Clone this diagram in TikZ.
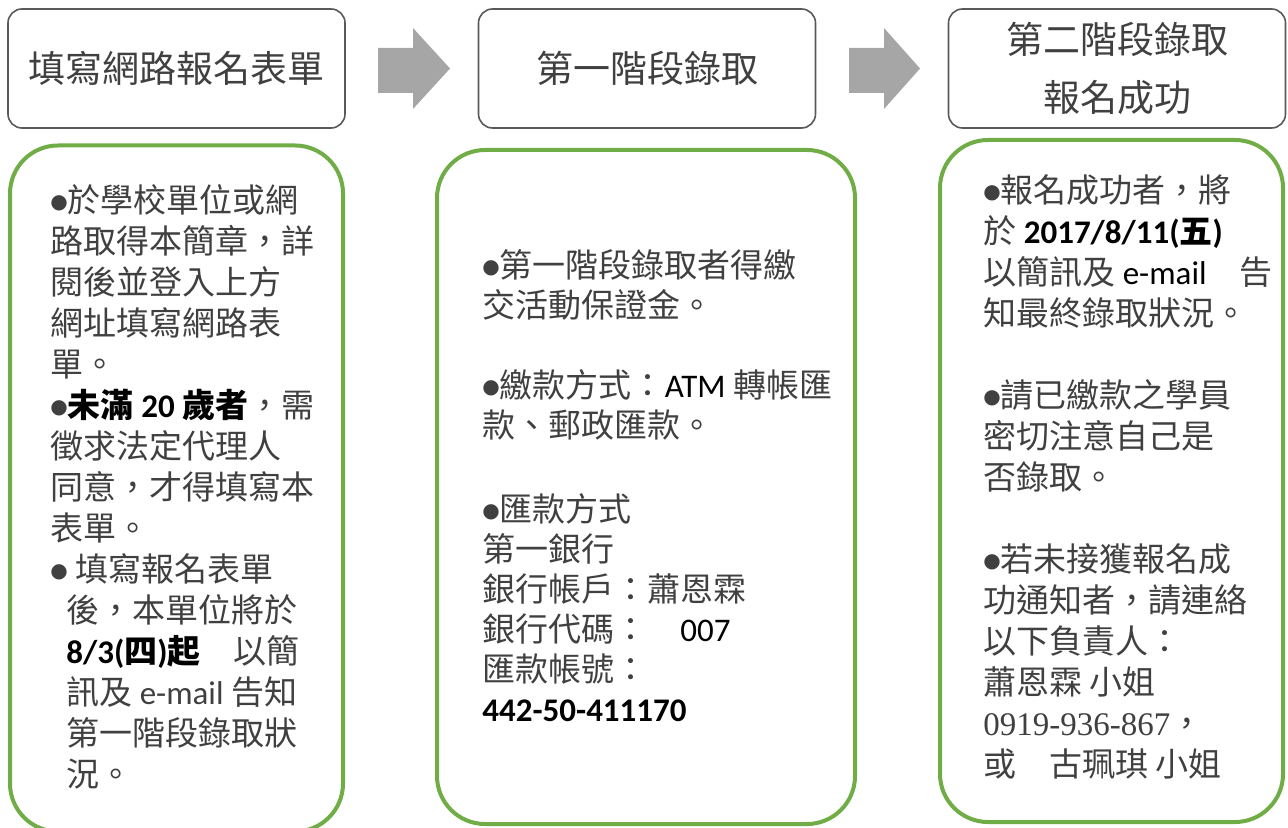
\documentclass[tikz,border=0pt]{standalone}
\usepackage{fontspec}
\setmainfont{Noto Sans CJK TC}
\newfontfamily\latfont{Carlito}
\newfontfamily\serfont{Liberation Serif}
\newfontfamily\dotfont{DejaVu Sans}
\usepackage{tikz}
\usetikzlibrary{positioning}
\usepackage{xcolor}
\definecolor{stepgray}{HTML}{595959}
\definecolor{textgray}{HTML}{404040}
\definecolor{boxgreen}{HTML}{70AD47}
\definecolor{arrowgray}{HTML}{A6A6A6}
\newcommand{\bul}{\raisebox{2pt}{\dotfont\fontsize{10}{10}\selectfont ●}}
\newcommand{\lat}[1]{{\latfont #1}}
\newcommand{\ser}[1]{{\serfont #1}}
\tikzstyle{stage} = [rectangle, rounded corners=7pt, draw=stepgray, line width=0.8pt,
minimum width=168.5pt, minimum height=59.5pt, text centered, align=center,
font=\fontsize{18.5}{29}\selectfont, text=textgray]
\tikzstyle{note} = [rectangle, rounded corners=24pt, draw=boxgreen, line width=2pt]
\tikzstyle{notetext} = [anchor=north west, align=left, inner sep=0pt,
font=\fontsize{16.5}{20.5}\selectfont, text=textgray]
\tikzstyle{flowarrow} = [fill=arrowgray]

\begin{document}
\begin{tikzpicture}[x=0.5pt, y=-0.5pt]
  \useasboundingbox (0,0) rectangle (1288,828);
  \node [stage] (form) at (176.5,68.5) {填寫網路報名表單};
  \node [stage] (first) at (647,68.5) {第一階段錄取};
  \node [stage] (second) at (1117,68.5) {第二階段錄取\\報名成功};
  \fill [flowarrow] (378,48) -- (413,48) -- (413,28) -- (450,68.5)
    -- (413,109) -- (413,93) -- (378,93) -- cycle;
  \fill [flowarrow] (849,48) -- (884,48) -- (884,28) -- (920,68.5)
    -- (884,109) -- (884,93) -- (849,93) -- cycle;
  \node [note, minimum width=166.5pt, minimum height=343pt] (formnote) at (176.5,488.5) {};
  \node [note, minimum width=209pt, minimum height=337pt] (firstnote) at (646,487) {};
  \node [note, minimum width=171.5pt, minimum height=341pt] (secondnote) at (1111.5,481) {};
  \node [notetext] (formtext) at (50,184) {%
    \bul 於學校單位或網\\
    路取得本簡章，詳\\
    閱後並登入上方\\
    網址填寫網路表\\
    單。\\
    \bul\textcolor{black}{\textbf{未滿 \lat{20} 歲者}}，需\\
    徵求法定代理人\\
    同意，才得填寫本\\
    表單。\\
    \bul\ 填寫報名表單\\
    \hspace*{8pt}後，本單位將於\\
    \hspace*{8pt}\textcolor{black}{\textbf{\lat{8/3(}四\lat{)}起}}\quad 以簡\\
    \hspace*{8pt}訊及 \lat{e-mail}\ 告知\\
    \hspace*{8pt}第一階段錄取狀\\
    \hspace*{8pt}況。};
  \node [notetext, font=\fontsize{16.5}{20}\selectfont] (firsttext) at (482,249) {%
    \bul 第一階段錄取者得繳\\
    交活動保證金。\\[20pt]
    \bul 繳款方式：\textcolor{black}{\lat{ATM}} 轉帳匯\\
    款、郵政匯款。\\[22pt]
    \bul 匯款方式\\
    第一銀行\\
    銀行帳戶：蕭恩霖\\
    銀行代碼：\quad\textcolor{black}{\lat{007}}\\
    匯款帳號：\\
    \textcolor{black}{\textbf{\lat{442-50-411170}}}};
  \node [notetext] (secondtext) at (983,174) {%
    \bul 報名成功者，將\\
    於 \textcolor{black}{\textbf{\lat{2017/8/11(}五\lat{)}}}\\
    以簡訊及 \textcolor{black}{\lat{e-mail}}\quad 告\\
    知最終錄取狀況。\\[20.5pt]
    \bul 請已繳款之學員\\
    密切注意自己是\\
    否錄取。\\[20.5pt]
    \bul 若未接獲報名成\\
    功通知者，請連絡\\
    以下負責人：\\
    蕭恩霖 小姐\\
    \ser{0919-936-867}，\\
    或\quad 古珮琪 小姐};
\end{tikzpicture}
\end{document}
